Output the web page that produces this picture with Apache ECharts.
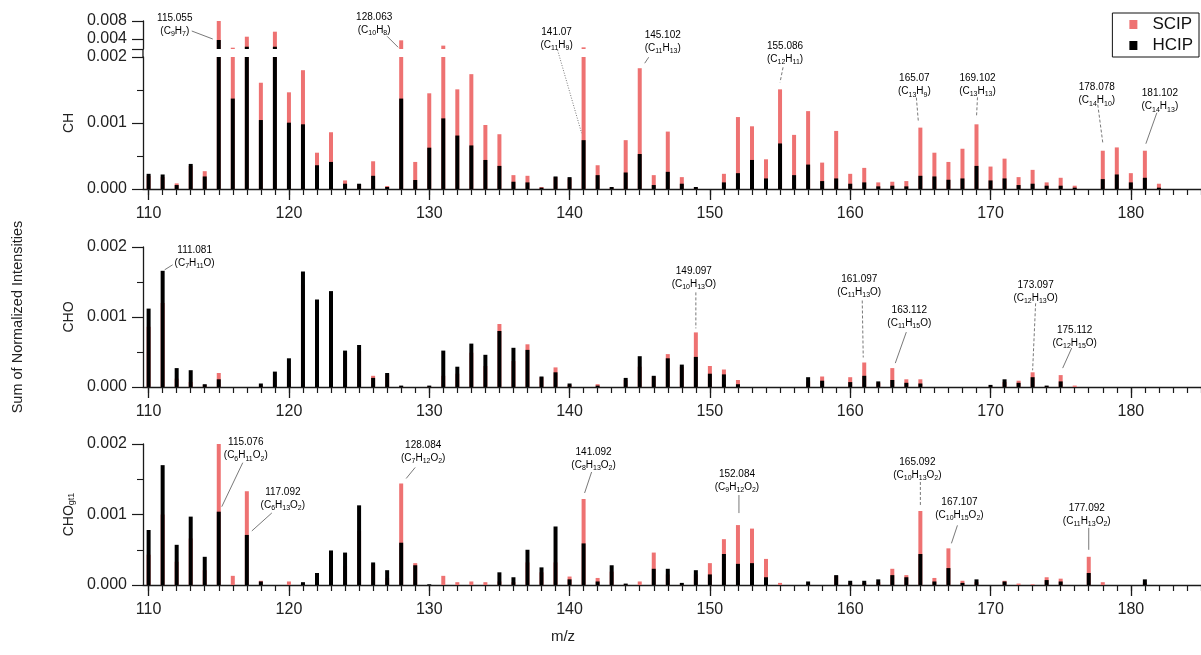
<!DOCTYPE html>
<html>
<head>
<meta charset="utf-8">
<script src="https://cdn.jsdelivr.net/npm/echarts@6/dist/echarts.min.js"></script>
<style>
  html, body { margin: 0; padding: 0; background: #fff; }
  #chart { width: 1201px; height: 655px; }
</style>
</head>
<body>
<div id="chart"></div>
<script>
// m/z channels (integer nominal mass)
const MZ = [110,111,112,113,114,115,116,117,118,119,120,121,122,123,124,125,126,127,128,129,
            130,131,132,133,134,135,136,137,138,139,140,141,142,143,144,145,146,147,148,149,
            150,151,152,153,154,155,156,157,158,159,160,161,162,163,164,165,166,167,168,169,
            170,171,172,173,174,175,176,177,178,179,180,181,182];

// CH family
const CH_SCIP = [0.00020,0.00018,0.000085,0.00035,0.00027,0.0080,0.00286,0.00437,0.00161,0.0053,
                 0.001465,0.0018,0.00055,0.00086,0.00013,0.00007,0.00042,0.000045,0.0038,0.00041,
                 0.00145,0.0031,0.00151,0.00174,0.00097,0.00083,0.00021,0.0002,0.00003,0.00018,
                 0.00016,0.0029,0.00036,0.00002,0.00074,0.00183,0.00021,0.00087,0.00018,0.00002,
                 0,0.00023,0.00109,0.00095,0.00045,0.00151,0.00082,0.00118,0.0004,0.00088,
                 0.00023,0.00032,0.0001,0.00011,0.00012,0.00093,0.00055,0.00041,0.00061,0.00098,
                 0.00034,0.00046,0.00018,0.00029,0.0001,0.00017,0.00005,0,0.00058,0.00063,
                 0.00024,0.00058,0.00008];
const CH_HCIP = [0.00023,0.00022,0.00006,0.00038,0.00019,0.00385,0.00137,0.00297,0.001045,0.00297,
                 0.001005,0.00098,0.00036,0.00041,0.00008,0.00008,0.0002,0.00003,0.00137,0.000136,
                 0.000626,0.00107,0.00081,0.00066,0.00044,0.00035,0.00011,0.0001,0.00002,0.00019,
                 0.00018,0.00074,0.00021,0.00003,0.00025,0.00053,0.00006,0.00026,0.00008,0.00003,
                 0,0.0001,0.00024,0.00044,0.00016,0.00069,0.00021,0.00037,0.00012,0.00016,
                 0.00008,0.0001,0.00004,0.00005,0.00004,0.0002,0.00019,0.00014,0.00016,0.00035,
                 0.00013,0.00016,0.00006,0.00008,0.00005,0.00005,0.00002,0,0.00015,0.00022,
                 0.0001,0.00017,0.00002];

// CHO family
const CHO_SCIP = [0.00086,0.0012,0.00012,0.00007,0.00003,0.0002,0,0,0.00002,0.0001,
                  0.00025,0.00146,0.00101,0.00135,0.00048,0.00051,0.00016,0.00018,0.00001,0,
                  0.00001,0.00016,0.00019,0.00049,0.0003,0.0009,0.00037,0.00061,0.00014,0.00028,
                  0.00003,0,0.00004,0,0.0001,0.00029,0.00015,0.00047,0.00029,0.00078,
                  0.0003,0.00025,0.0001,0,0,0,0,0.00008,0.00015,0,
                  0.00014,0.00035,0.00006,0.00027,0.00011,0.00011,0,0,0,0,
                  0.00001,0.00007,0.00009,0.00021,0.00001,0.00017,0.00002,0,0,0,
                  0,0,0];
const CHO_HCIP = [0.00112,0.00166,0.00027,0.00024,0.00004,0.00011,0,0,0.00005,0.00022,
                  0.00041,0.00165,0.00125,0.00137,0.00052,0.0006,0.00013,0.0002,0.00002,0,
                  0.00002,0.00052,0.00029,0.00062,0.00046,0.0008,0.00056,0.00053,0.00015,0.00021,
                  0.00005,0,0.00002,0,0.00013,0.00044,0.00016,0.00041,0.00032,0.00043,
                  0.00019,0.00018,0.00004,0,0,0,0,0.00014,0.00009,0,
                  0.00007,0.00016,0.00008,0.0001,0.00006,0.00005,0,0,0,0,
                  0.00003,0.00011,0.00006,0.00014,0.00002,0.00008,0,0,0,0,
                  0,0,0];

// CHO with more than one oxygen
const CHOGT1_SCIP = [0.00043,0.001,0.00033,0.00066,0.00021,0.002,0.00013,0.00133,0.00006,0,
                     0.00005,0.00002,0.00009,0.00007,0.00027,0.00077,0.0003,0.0001,0.00144,0.00031,
                     0,0.00013,0.00004,0.00005,0.00004,0.00005,0.00004,0.00032,0.00018,0.00032,
                     0.00012,0.00122,0.0001,0.00019,0.00001,0.00005,0.00046,0.00015,0.00001,0.00015,
                     0.00031,0.00065,0.00085,0.0008,0.00037,0.00003,0,0.00002,0,0.00013,
                     0.00003,0.00003,0.00004,0.00023,0.00014,0.00105,0.0001,0.00052,0.00006,0.00004,
                     0,0.00006,0.00002,0.00001,0.00011,0.00009,0,0.0004,0.00004,0,
                     0,0.00003,0];
const CHOGT1_HCIP = [0.00078,0.0017,0.00057,0.00097,0.0004,0.00104,0,0.00071,0.00005,0,
                     0,0.00004,0.00017,0.00049,0.00046,0.00113,0.00032,0.00021,0.0006,0.00028,
                     0.00001,0,0,0,0,0.00018,0.00011,0.0005,0.00025,0.00083,
                     0.00008,0.00059,0.00005,0.00028,0.00002,0,0.00023,0.00023,0.00003,0.00021,
                     0.00015,0.00044,0.0003,0.00031,0.00011,0,0,0.00005,0,0.00014,
                     0.00006,0.00006,0.00008,0.00014,0.00011,0.00044,0.00005,0.00024,0.00003,0.00008,
                     0,0.00005,0,0,0.00007,0.00005,0,0.00017,0,0,
                     0,0.00008,0];

// axis ticks
const X_LABELS = [110,120,130,140,150,160,170,180];
const CH_UPPER_LABELS = [0.004, 0.008];

// annotated peaks: panel, nominal m/z, which series the leader points at
const ANNOTATIONS = [
  {panel:0, mz:115, on:'SCIP', mass:'115.055', formula:'C_9H_7',     label:[-44,-3],   line:[-27,10,-6,18], dash:'solid'},
  {panel:0, mz:128, on:'SCIP', mass:'128.063', formula:'C_10H_8',    label:[-27,-23],  line:[-14,-4,-3,7],  dash:'solid'},
  {panel:0, mz:141, on:'HCIP', mass:'141.07',  formula:'C_11H_9',    label:[-27,-108], line:[-26,-90,-2,-7],dash:'dot'},
  {panel:0, mz:145, on:'SCIP', mass:'145.102', formula:'C_11H_13',   label:[23,-33],   line:[9,-11,5,-5],   dash:'solid'},
  {panel:0, mz:155, on:'SCIP', mass:'155.086', formula:'C_12H_11',   label:[5,-43],    line:[3,-22,0,-7],   dash:'dash'},
  {panel:0, mz:165, on:'SCIP', mass:'165.07',  formula:'C_13H_9',    label:[-6,-49],   line:[-4,-30,-2,-6], dash:'dash'},
  {panel:0, mz:169, on:'SCIP', mass:'169.102', formula:'C_13H_13',   label:[1,-46],    line:[1,-27,0,-7],   dash:'dash'},
  {panel:0, mz:178, on:'SCIP', mass:'178.078', formula:'C_14H_10',   label:[-6,-63],   line:[-5,-46,0,-8],  dash:'dash'},
  {panel:0, mz:181, on:'SCIP', mass:'181.102', formula:'C_14H_13',   label:[15,-57],   line:[12,-38,1,-7],  dash:'solid'},
  {panel:1, mz:111, on:'HCIP', mass:'111.081', formula:'C_7H_11O',   label:[32,-21],   line:[10,-6,2,-1],   dash:'solid'},
  {panel:1, mz:149, on:'SCIP', mass:'149.097', formula:'C_10H_13O',  label:[-2,-61],   line:[0,-40,0,-4],   dash:'dash'},
  {panel:1, mz:161, on:'SCIP', mass:'161.097', formula:'C_11H_13O',  label:[-5,-83],   line:[-2,-62,-1,-5], dash:'dash'},
  {panel:1, mz:163, on:'SCIP', mass:'163.112', formula:'C_11H_15O',  label:[17,-58],   line:[14,-36,3,-5],  dash:'solid'},
  {panel:1, mz:173, on:'SCIP', mass:'173.097', formula:'C_12H_13O',  label:[3,-87],    line:[3,-69,0,-2],   dash:'dash'},
  {panel:1, mz:175, on:'SCIP', mass:'175.112', formula:'C_12H_15O',  label:[14,-45],   line:[11,-27,2,-7],  dash:'solid'},
  {panel:2, mz:115, on:'HCIP', mass:'115.076', formula:'C_6H_11O_2', label:[27,-69],   line:[24,-49,3,-5],  dash:'solid'},
  {panel:2, mz:117, on:'HCIP', mass:'117.092', formula:'C_6H_13O_2', label:[36,-43],   line:[25,-22,5,-4],  dash:'solid'},
  {panel:2, mz:128, on:'SCIP', mass:'128.084', formula:'C_7H_12O_2', label:[22,-38],   line:[14,-16,5,-5],  dash:'solid'},
  {panel:2, mz:141, on:'SCIP', mass:'141.092', formula:'C_8H_13O_2', label:[10,-47],   line:[8,-27,1,-6],   dash:'solid'},
  {panel:2, mz:152, on:'SCIP', mass:'152.084', formula:'C_9H_12O_2', label:[-1,-51],   line:[1,-30,1,-12],  dash:'solid'},
  {panel:2, mz:165, on:'SCIP', mass:'165.092', formula:'C_10H_13O_2',label:[-3,-49],   line:[0,-29,0,-4],   dash:'dash'},
  {panel:2, mz:167, on:'SCIP', mass:'167.107', formula:'C_10H_15O_2',label:[11,-46],   line:[9,-23,3,-5],   dash:'solid'},
  {panel:2, mz:177, on:'SCIP', mass:'177.092', formula:'C_11H_13O_2',label:[-2,-49],   line:[0,-29,0,-7],   dash:'solid'}
];

// ---------------------------------------------------------------- layout
const FONT = '"Liberation Sans", Arial, Helvetica, sans-serif';
const RED = '#EE7272';
const INK = '#1a1a1a';
const LEFT = 143, PLOT_W = 1058;
const X_MIN = 109.6, X_MAX = 185;
const BREAK = 0.002;                 // CH axis switches to a log2 scale above this
const UPPER_MIN = 1.444, UPPER_MAX = 3;  // log2(value / 0.001)
const GRIDS = [
  {top: 21,  height: 28},   // CH, compressed upper part
  {top: 57,  height: 132},  // CH, linear part
  {top: 247, height: 140},  // CHO
  {top: 444, height: 141}   // CHO_gt1
];
const toLog = v => Math.log2(v / 0.001);
const MINOR_X = [];
for (let m = 110; m <= 185; m++) MINOR_X.push(m);

function pairs(vals, keep, map) {
  const out = [];
  vals.forEach((v, i) => { if (keep(v)) out.push([MZ[i], map ? map(v) : v]); });
  return out;
}

const axisLineStyle = {color: INK, width: 1.3};
const tickLabel = {fontFamily: FONT, fontSize: 16, color: '#222'};

function mainX(gi, show) {
  return {
    type: 'value', gridIndex: gi, min: X_MIN, max: X_MAX, position: 'bottom', show: show,
    axisLine: {show: true, onZero: false, lineStyle: axisLineStyle},
    axisTick: {show: true, length: 6, customValues: MINOR_X, lineStyle: {color: INK, width: 1.2}},
    axisLabel: Object.assign({show: true, margin: 17, customValues: X_LABELS}, tickLabel),
    splitLine: {show: false}
  };
}
function majorX(gi) {
  return {
    type: 'value', gridIndex: gi, min: X_MIN, max: X_MAX, position: 'bottom',
    axisLine: {show: false},
    axisTick: {show: true, length: 11, customValues: X_LABELS, lineStyle: {color: INK, width: 1.3}},
    axisLabel: {show: false},
    splitLine: {show: false}
  };
}
function linearY(gi, name) {
  return {
    type: 'value', gridIndex: gi, min: 0, max: 0.002, interval: 0.001,
    name: name, nameLocation: 'middle', nameGap: 48, nameRotate: 90,
    nameTextStyle: {fontFamily: FONT, fontSize: 14, color: '#222',
      rich: {a: {fontFamily: FONT, fontSize: 14, color: '#222'},
             b: {fontFamily: FONT, fontSize: 9, color: '#222', verticalAlign: 'bottom', lineHeight: 12}}},
    axisLine: {show: true, lineStyle: axisLineStyle},
    axisTick: {show: true, length: 11, lineStyle: {color: INK, width: 1.2}},
    minorTick: {show: true, splitNumber: 2, length: 6, lineStyle: {color: INK, width: 1.1}},
    axisLabel: Object.assign({margin: 16, formatter: v => v.toFixed(3)}, tickLabel),
    splitLine: {show: false}
  };
}

const option = {
  animation: false,
  backgroundColor: '#fff',
  legend: {
    data: [{name: 'SCIP', icon: 'rect'}, {name: 'HCIP', icon: 'rect'}],
    orient: 'vertical', right: 2, top: 13,
    itemWidth: 8, itemHeight: 9, itemGap: 4,
    padding: [3, 6, 3, 17],
    borderColor: '#111', borderWidth: 1,
    textStyle: {fontFamily: FONT, fontSize: 17, color: '#111', padding: [0, 0, 0, 10]}
  },
  grid: GRIDS.map(g => ({left: LEFT, width: PLOT_W, top: g.top, height: g.height})),
  xAxis: [mainX(0, false), mainX(1, true), mainX(2, true), mainX(3, true),
          majorX(1), majorX(2), majorX(3)],
  yAxis: [
    {
      type: 'value', gridIndex: 0, min: UPPER_MIN, max: UPPER_MAX,
      axisLine: {show: true, lineStyle: axisLineStyle},
      axisTick: {show: true, length: 11, customValues: [UPPER_MIN].concat(CH_UPPER_LABELS.map(toLog)),
                 lineStyle: {color: INK, width: 1.2}},
      axisLabel: Object.assign({margin: 16, customValues: CH_UPPER_LABELS.map(toLog),
                 formatter: v => (0.001 * Math.pow(2, v)).toFixed(3)}, tickLabel),
      splitLine: {show: false}
    },
    linearY(1, 'CH'),
    linearY(2, 'CHO'),
    linearY(3, '{a|CHO}{b|gt1}')
  ],
  series: [],
  graphic: []
};

function bars(name, gi, data) {
  return {
    type: 'bar', name: name, xAxisIndex: gi, yAxisIndex: gi, data: data,
    barWidth: 4, barGap: '-100%', clip: true,
    itemStyle: {color: name === 'SCIP' ? RED : '#000'},
    z: name === 'SCIP' ? 2 : 3,
    emphasis: {disabled: true}
  };
}
option.series.push(
  bars('SCIP', 0, pairs(CH_SCIP, v => v > BREAK, toLog)),
  bars('HCIP', 0, pairs(CH_HCIP, v => v > BREAK, toLog)),
  bars('SCIP', 1, pairs(CH_SCIP, v => v > 0)),
  bars('HCIP', 1, pairs(CH_HCIP, v => v > 0)),
  bars('SCIP', 2, pairs(CHO_SCIP, v => v > 0)),
  bars('HCIP', 2, pairs(CHO_HCIP, v => v > 0)),
  bars('SCIP', 3, pairs(CHOGT1_SCIP, v => v > 0)),
  bars('HCIP', 3, pairs(CHOGT1_HCIP, v => v > 0))
);

const chart = echarts.init(document.getElementById('chart'), null, {renderer: 'canvas'});
chart.setOption(option);

// ---------------------------------------------------------------- decorations
const PANEL_DATA = [
  {SCIP: CH_SCIP, HCIP: CH_HCIP},
  {SCIP: CHO_SCIP, HCIP: CHO_HCIP},
  {SCIP: CHOGT1_SCIP, HCIP: CHOGT1_HCIP}
];
function peakPixel(a) {
  const v = PANEL_DATA[a.panel][a.on][MZ.indexOf(a.mz)];
  const sIdx = a.on === 'SCIP' ? 0 : 1;
  if (a.panel === 0 && v > BREAK) {
    return chart.convertToPixel({seriesIndex: sIdx}, [a.mz, toLog(v)]);
  }
  return chart.convertToPixel({seriesIndex: 2 * (a.panel + 1) + sIdx}, [a.mz, v]);
}
function richFormula(f) {
  return '{n|(' + f.replace(/_(\d+)/g, '}{s|$1}{n|') + ')}';
}
const DASHES = {solid: null, dash: [3, 2], dot: [1, 1.6]};
const graphics = [];
ANNOTATIONS.forEach(a => {
  const p = peakPixel(a);
  graphics.push({
    type: 'line', silent: true, z: 10,
    shape: {x1: p[0] + a.line[0], y1: p[1] + a.line[1], x2: p[0] + a.line[2], y2: p[1] + a.line[3]},
    style: {stroke: '#555', lineWidth: 0.8, lineDash: DASHES[a.dash]}
  });
  graphics.push({
    type: 'text', silent: true, z: 10,
    x: p[0] + a.label[0], y: p[1] + a.label[1] - 6.5,
    style: {
      text: '{n|' + a.mass + '}\n' + richFormula(a.formula),
      textAlign: 'center', textVerticalAlign: 'top',
      rich: {
        n: {fontFamily: FONT, fontSize: 10, color: '#333', lineHeight: 13},
        s: {fontFamily: FONT, fontSize: 7, color: '#333', lineHeight: 8, verticalAlign: 'bottom'}
      }
    }
  });
});
// joins the y-axis line across the CH scale break
graphics.push({
  type: 'line', silent: true,
  shape: {x1: LEFT, y1: GRIDS[0].top + GRIDS[0].height, x2: LEFT, y2: GRIDS[1].top},
  style: {stroke: INK, lineWidth: 1.3}
});
graphics.push({
  type: 'text', silent: true, x: 18, y: 317, rotation: Math.PI / 2,
  style: {text: 'Sum of Normalized Intensities', font: '14.5px ' + FONT, fill: '#222',
          textAlign: 'center', textVerticalAlign: 'middle'}
});
graphics.push({
  type: 'text', silent: true, x: 563, y: 637,
  style: {text: 'm/z', font: '15px ' + FONT, fill: '#222', textAlign: 'center', textVerticalAlign: 'middle'}
});
chart.setOption({graphic: graphics});
</script>
</body>
</html>
